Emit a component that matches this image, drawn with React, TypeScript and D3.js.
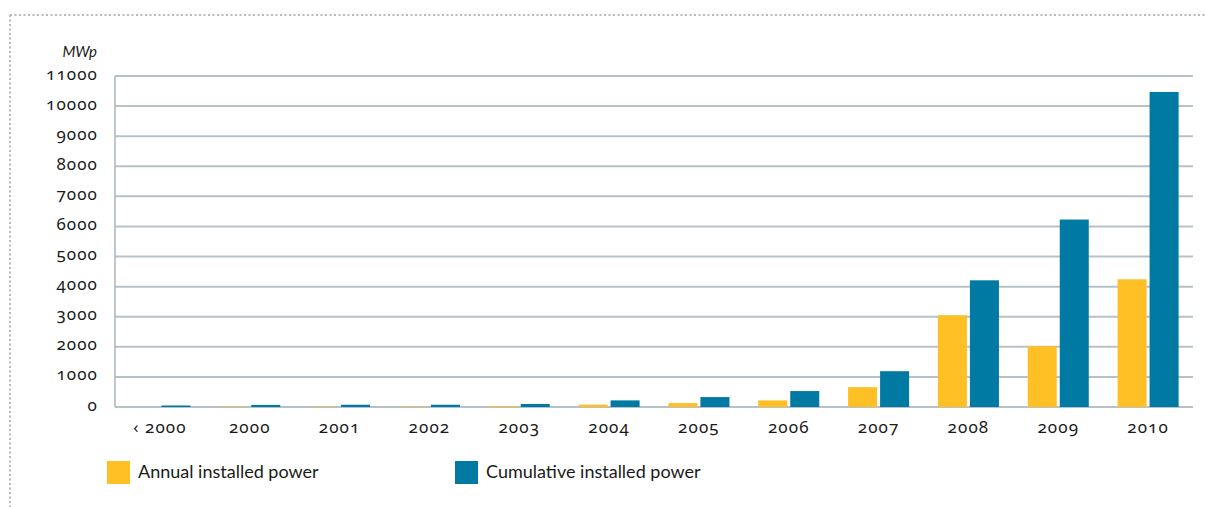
import React from "react";
import * as d3 from "d3";

const categories = ["‹ 2000", "2000", "2001", "2002", "2003", "2004", "2005", "2006", "2007", "2008", "2009", "2010"];
const annual = [0, 15, 15, 15, 30, 80, 130, 220, 660, 3050, 2020, 4245];
const cumulative = [50, 70, 75, 75, 100, 220, 330, 530, 1190, 4210, 6230, 10470];
const yTicks = [0, 1000, 2000, 3000, 4000, 5000, 6000, 7000, 8000, 9000, 10000, 11000];
const seriesNames = ["Annual installed power", "Cumulative installed power"];
const seriesColors = ["#FEC024", "#0079A3"];

const W = 1205, H = 507;
const font = "Lato, 'Open Sans', sans-serif";
const numFont = "'Noto Sans', 'Open Sans', sans-serif";

export default function App() {
  const x0 = d3.scaleBand<string>().domain(categories).range([115, 1193]);
  const bw = x0.bandwidth();
  const x1 = d3.scaleBand<string>().domain(["a", "c"]).range([14.4, bw - 14.4]).paddingInner(3 / 32);
  const y = d3.scaleLinear().domain([0, 11000]).range([407, 76]);
  const series = [annual, cumulative];
  const keys = ["a", "c"];
  const numStyle = { fontVariantNumeric: "oldstyle-nums tabular-nums", fontFeatureSettings: "'onum' 1, 'tnum' 1", letterSpacing: "1.1px" } as React.CSSProperties;

  return (
    <svg width={W} height={H} style={{ position: "absolute", left: 0, top: 0, background: "#fff" }}>
      {/* dotted frame */}
      <line x1={10} y1={15} x2={W} y2={15} stroke="#b3bbc1" strokeWidth={2} strokeDasharray="2,2.5" />
      <line x1={10} y1={15} x2={10} y2={H} stroke="#b3bbc1" strokeWidth={2} strokeDasharray="2,2.5" />

      {/* grid */}
      {yTicks.map((t) => (
        <line key={t} x1={115} x2={1193} y1={y(t)} y2={y(t)} stroke="#b7c1c8" strokeWidth={2} />
      ))}
      <line x1={115} x2={115} y1={y(11000)} y2={y(0)} stroke="#aab5bd" strokeWidth={1.5} />

      {/* y labels */}
      <text x={97} y={53} textAnchor="end" fontFamily={font} fontStyle="italic" fontSize={15} fill="#1a1a1a" dominantBaseline="middle">MWp</text>
      {yTicks.map((t) => (
        <text key={t} x={98} y={y(t) - 1} textAnchor="end" dominantBaseline="middle" fontFamily={numFont}
          fontSize={17} fill="#1a1a1a" style={numStyle}>{t}</text>
      ))}

      {/* bars */}
      {categories.map((c, i) => (
        <g key={c} transform={`translate(${x0(c)},0)`}>
          {series.map((s, k) => (
            s[i] > 0 ? <rect key={k} x={x1(keys[k])} width={x1.bandwidth()} y={y(s[i])} height={y(0) - y(s[i])} fill={seriesColors[k]} /> : null
          ))}
        </g>
      ))}

      {/* x labels */}
      {categories.map((c) => (
        <text key={c} x={(x0(c) as number) + bw / 2} y={433} textAnchor="middle" fontFamily={numFont} fontSize={17} fill="#1a1a1a"
          style={numStyle}>{c}</text>
      ))}

      {/* legend */}
      {seriesNames.map((n, k) => (
        <g key={n} transform={`translate(${k === 0 ? 107 : 455},461)`}>
          <rect width={23} height={23} fill={seriesColors[k]} />
          <text x={31} y={12} dominantBaseline="middle" fontFamily={font} fontSize={18} fill="#1a1a1a">{n}</text>
        </g>
      ))}
    </svg>
  );
}
